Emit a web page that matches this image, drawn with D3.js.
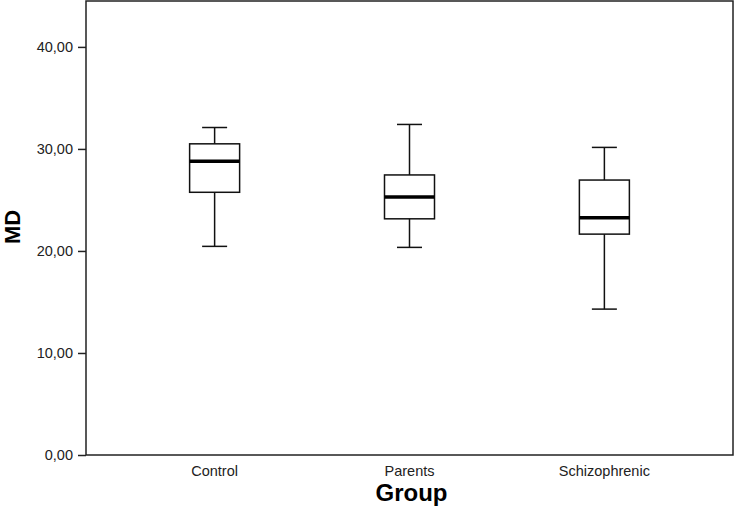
<!DOCTYPE html>
<html>
<head>
<meta charset="utf-8">
<script src="https://cdn.jsdelivr.net/npm/d3@7"></script>
<style>
  body { margin: 0; background: #fff; }
  text { font-family: "Liberation Sans", Arial, sans-serif; fill: #222; }
  .axisTitle { font-weight: bold; fill: #000; }
</style>
</head>
<body>
<svg id="chart" width="736" height="508"></svg>
<script>
// group names and box statistics
const groups = ["Control", "Parents", "Schizophrenic"]
const whiskerLow = [20.45, 20.35, 14.3]
const q1 = [25.75, 23.15, 21.65]
const median = [28.8, 25.3, 23.25]
const q3 = [30.5, 27.45, 26.95]
const whiskerHigh = [32.1, 32.4, 30.15]
const yTicks = [0, 10, 20, 30, 40]

let svg = d3.select("#chart")
let plotLeft = 86, plotRight = 733, plotTop = 1, plotBottom = 455

let xScale = d3.scalePoint().domain(groups).range([plotLeft, plotRight]).padding(0.66)
let yScale = d3.scaleLinear().domain([0, 44.5]).range([plotBottom, plotTop])
let fmt = d => d3.format(".2f")(d).replace(".", ",")

// frame
svg.append("rect")
    .attr("x", plotLeft).attr("y", plotTop)
    .attr("width", plotRight - plotLeft).attr("height", plotBottom - plotTop)
    .attr("fill", "none").attr("stroke", "#222").attr("stroke-width", 1.5)

// Y axis
let y_axis = d3.axisLeft(yScale).tickValues(yTicks).tickFormat(fmt).tickSize(8).tickPadding(5)
let gy = svg.append("g").attr("transform", `translate(${plotLeft},0)`).call(y_axis)
gy.select(".domain").remove()
gy.selectAll(".tick line").attr("stroke", "#222").attr("stroke-width", 1.5)
gy.selectAll(".tick text").attr("font-size", 14.5).attr("fill", "#222")
    .attr("font-family", "Liberation Sans, Arial, sans-serif")

// X labels
svg.selectAll(".xlab")
    .data(groups)
    .enter()
    .append("text")
    .attr("x", d => xScale(d))
    .attr("y", 476)
    .attr("text-anchor", "middle")
    .attr("font-size", 14.5)
    .text(d => d)

// boxes
let boxW = 50, capW = 25
let boxes = svg.selectAll(".box")
    .data(groups)
    .enter()
    .append("g")
    .attr("transform", d => `translate(${xScale(d)},0)`)

boxes.append("line")
    .attr("x1", 0).attr("x2", 0)
    .attr("y1", (d, i) => yScale(whiskerHigh[i]))
    .attr("y2", (d, i) => yScale(whiskerLow[i]))
    .attr("stroke", "#111").attr("stroke-width", 1.5)
boxes.append("line")
    .attr("x1", -capW / 2).attr("x2", capW / 2)
    .attr("y1", (d, i) => yScale(whiskerHigh[i]))
    .attr("y2", (d, i) => yScale(whiskerHigh[i]))
    .attr("stroke", "#111").attr("stroke-width", 1.5)
boxes.append("line")
    .attr("x1", -capW / 2).attr("x2", capW / 2)
    .attr("y1", (d, i) => yScale(whiskerLow[i]))
    .attr("y2", (d, i) => yScale(whiskerLow[i]))
    .attr("stroke", "#111").attr("stroke-width", 1.5)
boxes.append("rect")
    .attr("x", -boxW / 2).attr("width", boxW)
    .attr("y", (d, i) => yScale(q3[i]))
    .attr("height", (d, i) => yScale(q1[i]) - yScale(q3[i]))
    .attr("fill", "#fff").attr("stroke", "#111").attr("stroke-width", 1.5)
boxes.append("line")
    .attr("x1", -boxW / 2).attr("x2", boxW / 2)
    .attr("y1", (d, i) => yScale(median[i]))
    .attr("y2", (d, i) => yScale(median[i]))
    .attr("stroke", "#000").attr("stroke-width", 3.5)

// axis titles
svg.append("text").attr("class", "axisTitle")
    .attr("x", (plotLeft + plotRight) / 2 + 2).attr("y", 501)
    .attr("text-anchor", "middle")
    .attr("font-size", 24)
    .text("Group")

svg.append("text").attr("class", "axisTitle")
    .attr("transform", `translate(20,${227}) rotate(270)`)
    .attr("text-anchor", "middle")
    .attr("font-size", 22)
    .text("MD")
</script>
</body>
</html>
